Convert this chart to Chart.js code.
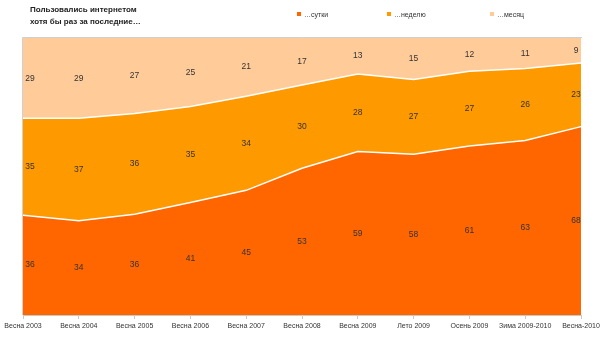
<!DOCTYPE html>
<html>
<head>
<meta charset="utf-8">
<script src="https://cdn.jsdelivr.net/npm/chart.js@4/dist/chart.umd.min.js"></script>
<style>
html,body{margin:0;padding:0;background:#fff;}
#wrap{position:relative;width:605px;height:338px;font-family:'Liberation Sans',Arial,sans-serif;}
canvas{position:absolute;left:0;top:0;}
#title{position:absolute;left:30px;top:4px;font-size:8px;line-height:12px;color:#222;font-weight:bold;}
.lg{position:absolute;top:9px;font-size:7px;color:#333;white-space:nowrap;line-height:12px;}
.lg i{display:inline-block;width:4px;height:4px;margin-right:3px;vertical-align:middle;position:relative;top:-1px;}
</style>
</head>
<body>
<div id="wrap">
<canvas id="c" width="605" height="338"></canvas>
<div id="title">Пользовались интернетом<br>хотя бы раз за последние…</div>
<div class="lg" style="left:297px"><i style="background:#FF6600"></i>…сутки</div>
<div class="lg" style="left:387px"><i style="background:#FF9900"></i>…неделю</div>
<div class="lg" style="left:490px"><i style="background:#FFCC99"></i>…месяц</div>
</div>
<script>
const categories = ['Весна 2003','Весна 2004','Весна 2005','Весна 2006','Весна 2007','Весна 2008','Весна 2009','Лето 2009','Осень 2009','Зима 2009-2010','Весна-2010'];
const day   = [36,34,36,41,45,53,59,58,61,63,68];
const week  = [35,37,36,35,34,30,28,27,27,26,23];
const month = [29,29,27,25,21,17,13,15,12,11,9];
const seriesNames = ['…сутки','…неделю','…месяц'];
const colors = ['#FF6600','#FF9900','#FFCC99'];
const raw = [day, week, month];

// 100% stacked: normalise each column
const totals = categories.map((_, i) => day[i] + week[i] + month[i]);
const pct = raw.map(arr => arr.map((v, i) => v * 100 / totals[i]));

const FONT = "'Liberation Sans',Arial,sans-serif";

const labelPlugin = {
  id:'bandLabels',
  afterDatasetsDraw(chart){
    const ctx = chart.ctx;
    const y = chart.scales.y;
    ctx.save();
    ctx.font = '8.5px ' + FONT;
    ctx.fillStyle = '#333';
    ctx.textAlign = 'center';
    ctx.textBaseline = 'middle';
    const n = categories.length;
    chart.data.datasets.forEach((ds, di) => {
      const meta = chart.getDatasetMeta(di);
      meta.data.forEach((pt, i) => {
        let below = 0;
        for (let k = 0; k < di; k++) below += pct[k][i];
        const v = pct[di][i];
        const yy = (y.getPixelForValue(below) + y.getPixelForValue(below + v)) / 2;
        let xx = pt.x;
        if (i === 0) xx += 7;
        if (i === n - 1) xx -= 5;
        ctx.fillText(String(raw[di][i]), xx, yy);
      });
    });
    ctx.restore();
  }
};

const frame = {
  id:'frame',
  afterDatasetsDraw(chart){
    const a = chart.chartArea, ctx = chart.ctx;
    ctx.save();
    ctx.strokeStyle = '#d0d0d0';
    ctx.lineWidth = 1;
    ctx.beginPath();
    ctx.moveTo(a.left - 0.5, a.top - 0.5);
    ctx.lineTo(a.right + 1, a.top - 0.5);
    ctx.moveTo(a.left - 0.5, a.top - 0.5);
    ctx.lineTo(a.left - 0.5, a.bottom);
    ctx.stroke();
    ctx.restore();
  }
};

new Chart(document.getElementById('c'), {
  type:'line',
  data:{
    labels: categories,
    datasets:[
      {label:seriesNames[0], data:pct[0], backgroundColor:colors[0], fill:'origin', borderWidth:1.5},
      {label:seriesNames[1], data:pct[1], backgroundColor:colors[1], fill:'-1', borderWidth:1.5},
      {label:seriesNames[2], data:pct[2], backgroundColor:colors[2], fill:'-1', borderWidth:0}
    ].map(d => Object.assign(d, {borderColor:'#ffffff', pointRadius:0, tension:0}))
  },
  options:{
    responsive:false,
    animation:false,
    layout:{padding:{left:23, right:24, top:38, bottom:0}},
    plugins:{legend:{display:false}, tooltip:{enabled:false}, title:{display:false}},
    scales:{
      x:{
        offset:false,
        grid:{display:true, drawOnChartArea:false, drawTicks:true, tickLength:4, color:'#c8c8c8'},
        border:{display:true, color:'#c8c8c8'},
        ticks:{font:{size:7, family:FONT}, color:'#333', padding:3, maxRotation:0, autoSkip:false},
        afterFit(s){ s.height = 23; }
      },
      y:{
        display:false, stacked:true, min:0, max:100
      }
    }
  },
  plugins:[labelPlugin, frame]
});
</script>
</body>
</html>
